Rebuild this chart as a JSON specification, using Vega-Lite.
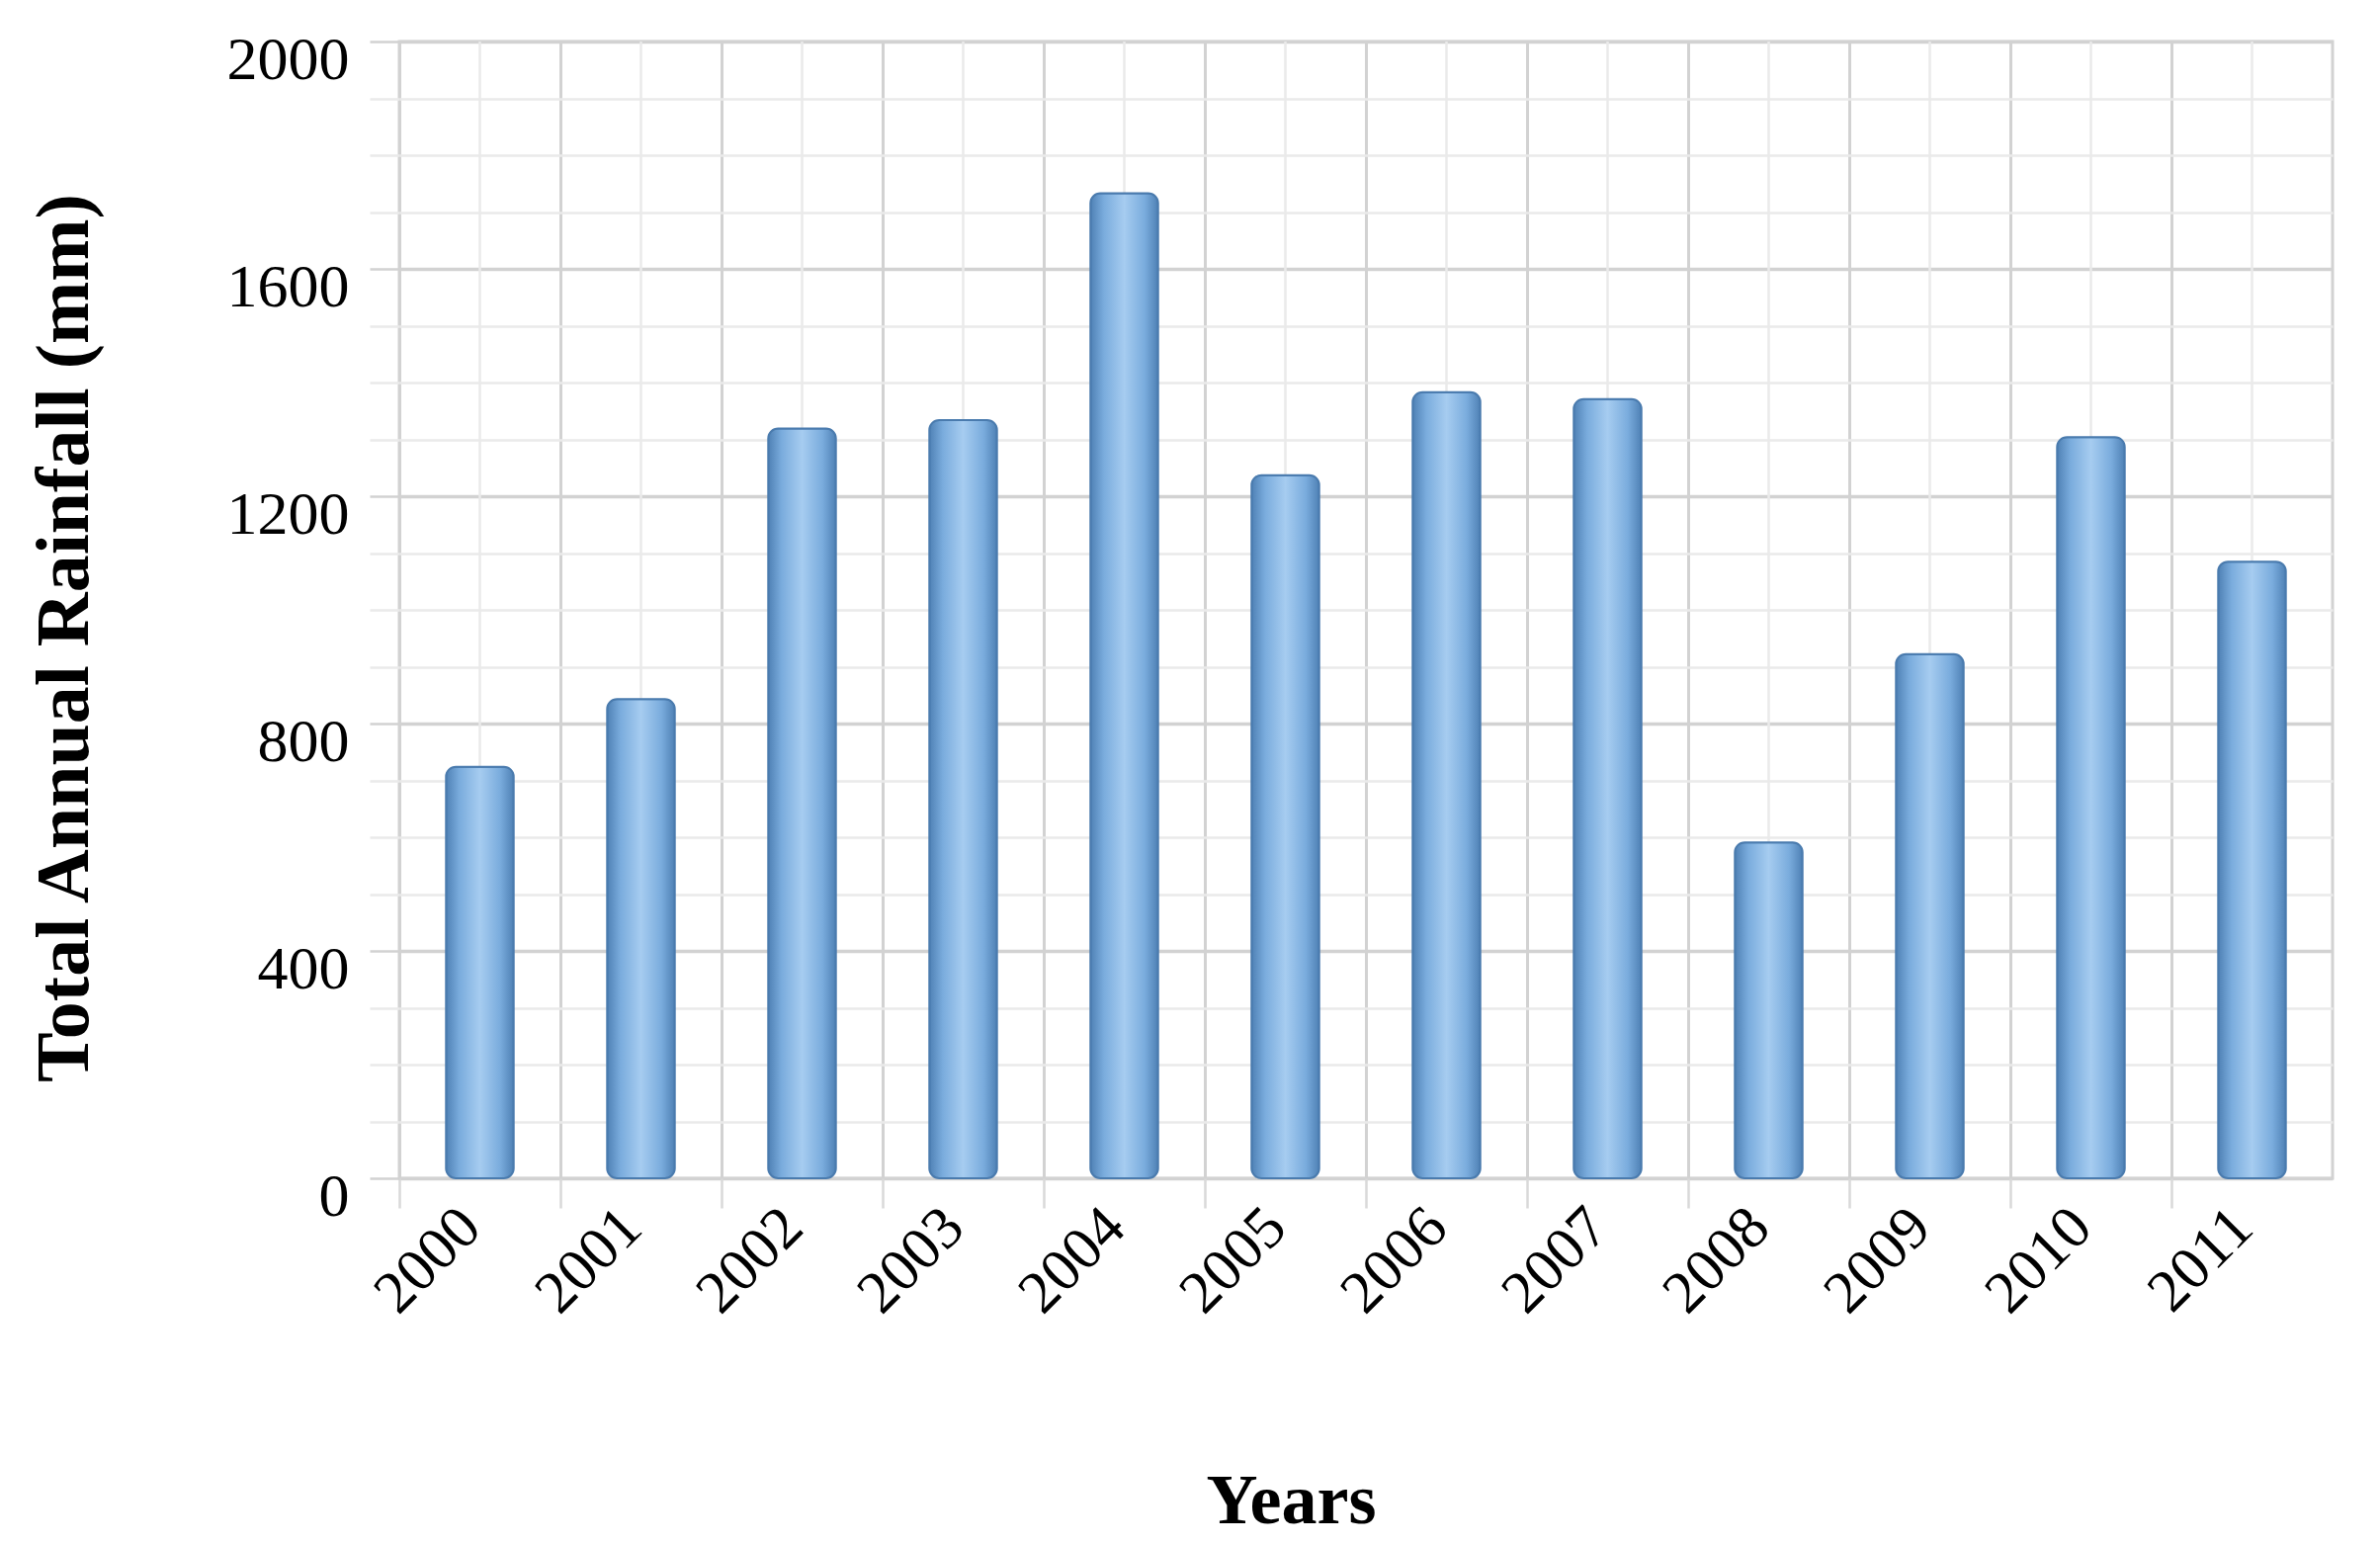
{
  "$schema": "https://vega.github.io/schema/vega-lite/v6.json",
  "autosize": {"type": "none"},
  "width": 1956,
  "height": 1150,
  "padding": {"left": 404, "top": 42, "right": 48, "bottom": 370},
  "background": "white",
  "data": {
    "values": [
      {"year": "2000", "rainfall": 724},
      {"year": "2001", "rainfall": 843},
      {"year": "2002", "rainfall": 1319},
      {"year": "2003", "rainfall": 1334},
      {"year": "2004", "rainfall": 1733},
      {"year": "2005", "rainfall": 1237},
      {"year": "2006", "rainfall": 1383},
      {"year": "2007", "rainfall": 1371},
      {"year": "2008", "rainfall": 591},
      {"year": "2009", "rainfall": 922},
      {"year": "2010", "rainfall": 1304},
      {"year": "2011", "rainfall": 1085}
    ]
  },
  "encoding": {
    "x": {
      "field": "year",
      "type": "nominal",
      "sort": null,
      "scale": {"paddingInner": 0, "paddingOuter": 0},
      "axis": {
        "bandPosition": 0,
        "grid": true,
        "gridColor": "#D2D2D2",
        "gridWidth": 3,
        "domain": false,
        "ticks": true,
        "tickSize": 30,
        "tickColor": "#D9D9D9",
        "tickWidth": 2.5,
        "labelAngle": -45,
        "labelAlign": "right",
        "labelBaseline": "middle",
        "labelOffset": -9,
        "labelPadding": 10,
        "labelFont": "Liberation Serif",
        "labelFontSize": 61,
        "labelColor": "black",
        "title": "Years",
        "titleFont": "Liberation Serif",
        "titleFontSize": 72,
        "titleFontWeight": "bold",
        "titleColor": "black",
        "titleX": 902,
        "titleY": 326,
        "titleBaseline": "middle"
      }
    }
  },
  "layer": [
    {
      "mark": {"type": "rule", "color": "#EAEAEA", "strokeWidth": 2.5},
      "encoding": {}
    },
    {
      "mark": {
        "type": "bar",
        "width": {"band": 0.42},
        "cornerRadius": 10,
        "stroke": "#4A7BAE",
        "strokeWidth": 2,
        "color": {
          "gradient": "linear",
          "x1": 0, "y1": 0, "x2": 1, "y2": 0,
          "stops": [
            {"offset": 0, "color": "#4F81B5"},
            {"offset": 0.2, "color": "#7AACDD"},
            {"offset": 0.5, "color": "#A6CCF0"},
            {"offset": 0.8, "color": "#7AACDD"},
            {"offset": 1, "color": "#4F81B5"}
          ]
        }
      },
      "encoding": {
        "y": {
          "field": "rainfall",
          "type": "quantitative",
          "scale": {"domain": [0, 2000], "nice": false},
          "axis": {
            "values": [0, 100, 200, 300, 400, 500, 600, 700, 800, 900, 1000, 1100, 1200, 1300, 1400, 1500, 1600, 1700, 1800, 1900, 2000],
            "format": "d",
            "labelExpr": "datum.value % 400 === 0 ? datum.label : ''",
            "labelOverlap": false,
            "labelFont": "Liberation Serif",
            "labelFontSize": 62,
            "labelColor": "black",
            "labelPadding": 21,
            "labelOffset": 18,
            "domain": false,
            "grid": true,
            "gridColor": {"condition": {"test": "datum.value % 400 === 0", "value": "#D2D2D2"}, "value": "#EAEAEA"},
            "gridWidth": {"condition": {"test": "datum.value % 400 === 0", "value": 3.5}, "value": 2.5},
            "tickColor": {"condition": {"test": "datum.value % 400 === 0", "value": "#D2D2D2"}, "value": "#EAEAEA"},
            "tickSize": 30,
            "tickWidth": 2.5,
            "title": "Total Annual Rainfall (mm)",
            "titleFont": "Liberation Serif",
            "titleFontSize": 76,
            "titleFontWeight": "bold",
            "titleColor": "black",
            "titleAngle": -90,
            "titleX": -339,
            "titleY": 603,
            "titleAlign": "center",
            "titleBaseline": "middle"
          }
        }
      }
    }
  ],
  "config": {
    "view": {"stroke": "#D2D2D2", "strokeWidth": 3}
  }
}
